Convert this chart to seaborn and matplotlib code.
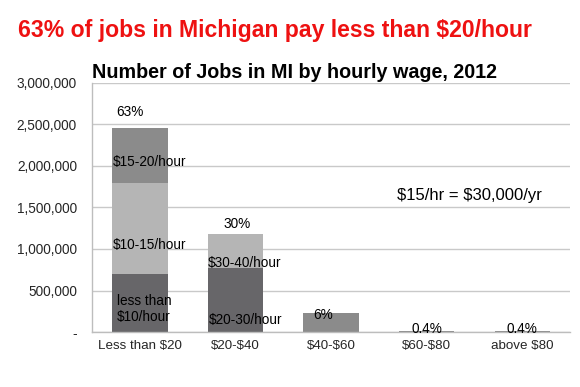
import matplotlib
matplotlib.use("Agg")
import matplotlib.pyplot as plt
import seaborn as sns
import numpy as np

categories = ["Less than $20", "$20-$40", "$40-$60", "$60-$80", "above $80"]
layer_bottom = [700000, 770000, 0, 0, 0]        # <$10/hr, $20-30/hr
layer_middle = [1095000, 410000, 0, 0, 0]       # $10-15/hr, $30-40/hr
layer_top = [665000, 0, 230000, 18000, 18000]   # $15-20/hr, others
pct_labels = ["63%", "30%", "6%", "0.4%", "0.4%"]
yticks = [0, 500000, 1000000, 1500000, 2000000, 2500000, 3000000]
ytick_labels = ["-", "500,000", "1,000,000", "1,500,000", "2,000,000", "2,500,000", "3,000,000"]

sns.set_theme(style="white")
plt.rcParams['font.family'] = ['Liberation Sans', 'DejaVu Sans']
plt.rcParams['text.parse_math'] = False

c_dark = "#676669"
c_light = "#b5b5b5"
c_mid = "#8b8b8b"

fig = plt.figure(figsize=(5.8, 3.87), dpi=100)
ax = fig.add_axes([0.159, 0.142, 0.824, 0.644])

b = np.array(layer_bottom)
m = np.array(layer_middle)
t = np.array(layer_top)
cum3 = b + m + t
cum2 = b + m

bw = 0.58
for vals, col in [(cum3, c_mid), (cum2, c_light), (b, c_dark)]:
    sns.barplot(x=categories, y=vals, color=col, width=bw, saturation=1, ax=ax,
                zorder=2, linewidth=0, edgecolor="none")

ax.set_ylim(0, 3000000)
ax.set_xlim(-0.5, 4.5)
ax.set_yticks(yticks)
ax.set_yticklabels(ytick_labels, fontsize=9.8)
ax.tick_params(axis="y", length=0, pad=11)
ax.tick_params(axis="x", length=0, pad=6, labelsize=9.6)
ax.set_xlabel("")
ax.set_ylabel("")
ax.yaxis.grid(True, color="#c9c9c9", linewidth=1)
ax.set_axisbelow(True)
for s in ["top", "right"]:
    ax.spines[s].set_visible(False)
for s in ["left", "bottom"]:
    ax.spines[s].set_color("#bdbdbd")
    ax.spines[s].set_linewidth(1)

# percent labels
pct_pos = [(-0.11, 2650000), (1.02, 1300000), (1.92, 210000), (3, 40000), (4, 40000)]
for (x, y), lab in zip(pct_pos, pct_labels):
    ax.text(x, y, lab, ha="center", va="center", fontsize=9.8, color="black", zorder=5)

# segment labels
seg = [(-0.28, 2050000, "$15-20/hour"), (-0.28, 1050000, "$10-15/hour"),
       (-0.24, 370000, "less than"), (-0.24, 180000, "$10/hour"),
       (0.71, 830000, "$30-40/hour"), (0.72, 145000, "$20-30/hour")]
for x, y, lab in seg:
    ax.text(x, y, lab, ha="left", va="center", fontsize=9.8, color="black", zorder=5)

ax.text(3.45, 1640000, "$15/hr = $30,000/yr", ha="center", va="center", fontsize=12, color="black")

fig.text(18/580, 1 - 30/387, "63% of jobs in Michigan pay less than $20/hour",
         ha="left", va="center", fontsize=16.6, fontweight="bold", color="#ee1111")
fig.text(92/580, 1 - 72/387, "Number of Jobs in MI by hourly wage, 2012",
         ha="left", va="center", fontsize=14.2, fontweight="bold", color="black")

fig.savefig("out.png", dpi=100)
